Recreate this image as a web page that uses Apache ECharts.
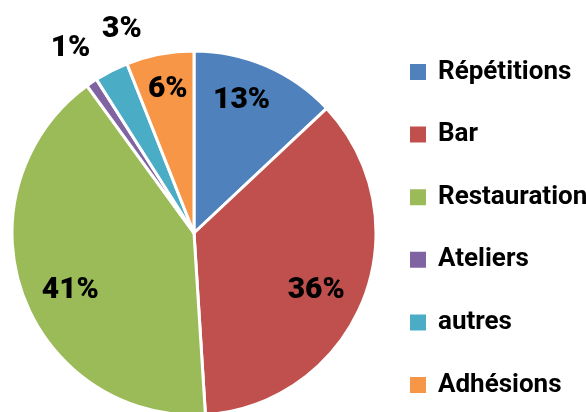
<!DOCTYPE html>
<html>
<head>
<meta charset="utf-8">
<script src="https://cdn.jsdelivr.net/npm/echarts@6/dist/echarts.min.js"></script>
<style>
  html, body { margin: 0; padding: 0; background: #fff; }
  #main { width: 586px; height: 412px; }
</style>
</head>
<body>
<div id="main"></div>
<script>
// postes de recettes (en %)
const categories = ['Répétitions', 'Bar', 'Restauration', 'Ateliers', 'autres', 'Adhésions'];
const values = [13, 36, 41, 1, 3, 6];
const colors = ['#4F81BD', '#C0504D', '#9BBB59', '#8064A2', '#4BACC6', '#F79646'];

const font = 'Roboto, "Liberation Sans", sans-serif';
const center = [194, 233];
const isSmall = (v) => v < 5;

// petits décalages pour coller au placement d'Excel
const nudge = {
  'Répétitions': [-8, -4],
  'Bar': [-8, 6],
  'Restauration': [8, 10],
  'Ateliers': [3, 2],
  'autres': [30, -3],
  'Adhésions': [0, -6]
};

const labelStyle = {
  color: '#000',
  fontFamily: font,
  fontWeight: 900,
  fontSize: 30,
  formatter: '{c}%'
};

const clear = { color: 'rgba(0,0,0,0)' };

var myChart = echarts.init(document.getElementById('main'), null, { renderer: 'canvas' });
myChart.setOption({
  backgroundColor: '#fff',
  animation: false,
  legend: {
    orient: 'vertical',
    left: 403,
    top: 52,
    itemWidth: 18,
    itemHeight: 18,
    itemGap: 32.6,
    icon: 'rect',
    data: categories,
    selectedMode: false,
    textStyle: {
      fontFamily: font,
      fontWeight: 'bold',
      fontSize: 26,
      lineHeight: 30,
      color: '#000',
      padding: [0, 0, 0, 6]
    }
  },
  series: [
    {
      type: 'pie',
      center: center,
      radius: 182,
      startAngle: 90,
      clockwise: true,
      silent: true,
      label: { show: false },
      labelLine: { show: false },
      itemStyle: { borderColor: '#fff', borderWidth: 3 },
      data: categories.map((name, i) => ({
        name: name,
        value: values[i],
        itemStyle: { color: colors[i] }
      }))
    },
    {
      // étiquettes à l'intérieur des parts
      type: 'pie',
      center: center,
      radius: [92, 182],
      startAngle: 90,
      silent: true,
      avoidLabelOverlap: false,
      labelLine: { show: false },
      itemStyle: clear,
      label: Object.assign({ show: true, position: 'inside' }, labelStyle),
      data: categories.map((name, i) => ({
        name: name,
        value: values[i],
        label: { show: !isSmall(values[i]), offset: nudge[name] }
      }))
    },
    {
      // petites parts : étiquettes à l'extérieur
      type: 'pie',
      center: center,
      radius: [200, 244],
      startAngle: 90,
      silent: true,
      avoidLabelOverlap: false,
      labelLine: { show: false },
      itemStyle: clear,
      label: Object.assign({ show: true, position: 'inside' }, labelStyle),
      data: categories.map((name, i) => ({
        name: name,
        value: values[i],
        label: { show: isSmall(values[i]), offset: nudge[name] }
      }))
    }
  ]
});
</script>
</body>
</html>
